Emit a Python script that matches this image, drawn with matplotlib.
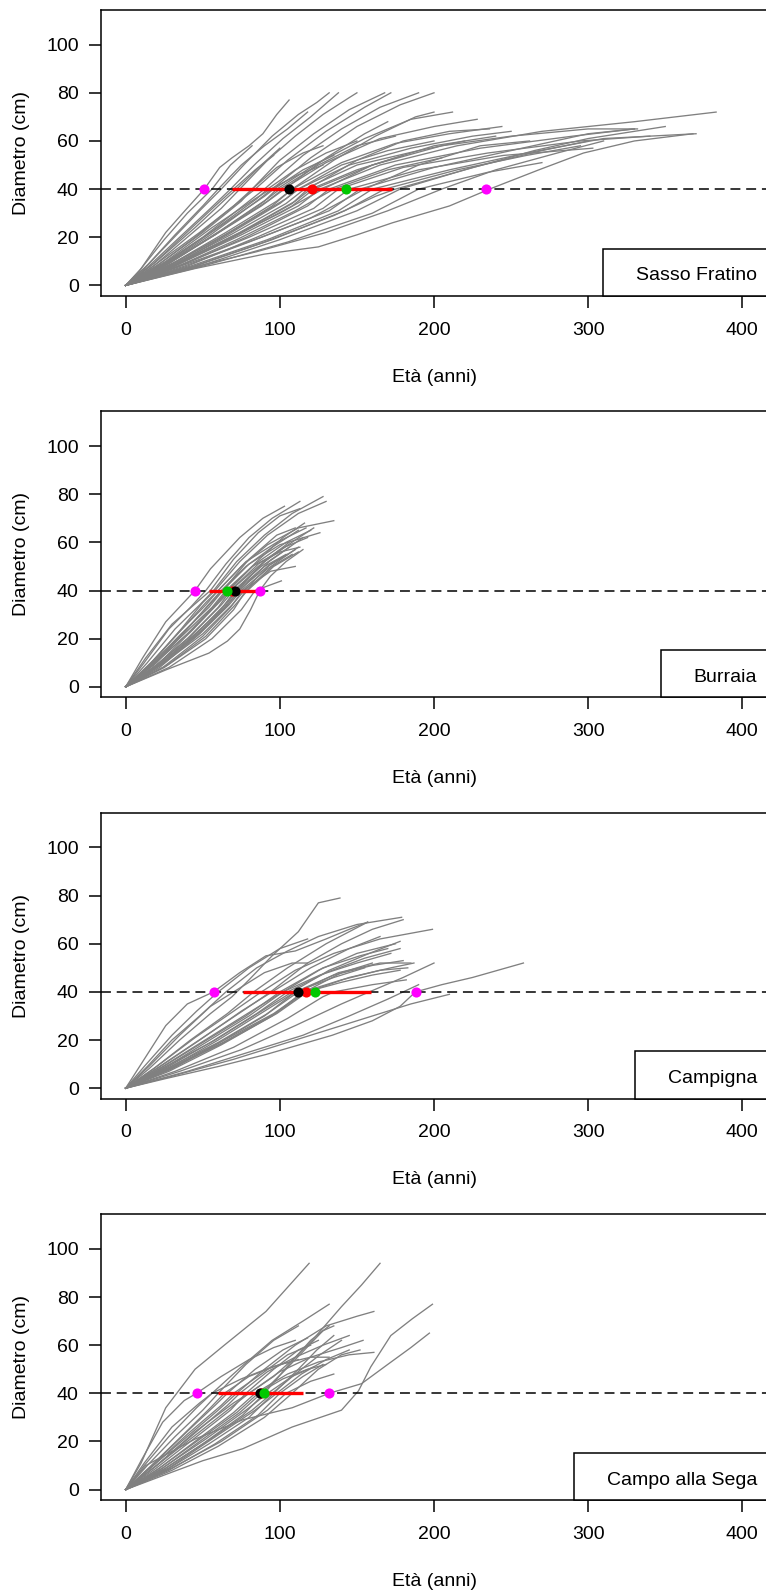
import matplotlib
matplotlib.use('Agg')
import matplotlib.pyplot as plt
from matplotlib.patches import Rectangle

plt.rcParams['font.family'] = ['Liberation Sans', 'DejaVu Sans']

# sites and age (years) at which 40 cm diameter is reached
sites = ['Sasso Fratino', 'Burraia', 'Campigna', 'Campo alla Sega']
age40_lo = [51, 45, 57, 46]        # magenta
age40_hi = [234, 87, 188, 132]     # magenta
range_lo = [69, 54, 76, 60]        # red segment
range_hi = [173, 85, 159, 115]
age40_median = [106, 71, 112, 87]  # black
age40_mean = [121, 69, 117, 88]    # red
age40_fit = [143, 66, 123, 90]     # green

# growth curves (age, diameter)
sasso_curves = [
    [(0, 0), (9, 6), (26, 22), (37, 30), (51, 40), (61, 49), (69, 53), (80, 58), (89, 63), (98, 71), (106, 77)],
    [(0, 0), (10, 7), (25, 19), (40, 30), (56, 40), (68, 50), (82, 58)],
    [(0, 0), (12, 7), (30, 19), (48, 31), (62, 40), (78, 51), (95, 62), (112, 71), (124, 76), (132, 80)],
    [(0, 0), (15, 8), (35, 20), (55, 32), (68, 40), (85, 51), (102, 61), (120, 70), (138, 80)],
    [(0, 0), (18, 8), (40, 20), (62, 32), (74, 40), (92, 52), (110, 62), (128, 71), (145, 78), (150, 80)],
    [(0, 0), (20, 8), (45, 20), (70, 33), (82, 40), (100, 52), (122, 63), (145, 73), (168, 80)],
    [(0, 0), (20, 9), (48, 22), (72, 34), (84, 40), (105, 52), (130, 64), (155, 74), (172, 80)],
    [(0, 0), (22, 8), (50, 20), (78, 34), (90, 40), (115, 54), (140, 65), (165, 74), (190, 80)],
    [(0, 0), (24, 8), (55, 21), (85, 35), (95, 40), (120, 53), (150, 66), (178, 75), (200, 80)],
    [(0, 0), (25, 8), (58, 21), (90, 35), (98, 40), (125, 51), (155, 61), (185, 69), (212, 72)],
    [(0, 0), (25, 9), (55, 22), (85, 36), (92, 40), (110, 48), (130, 55), (150, 60)],
    [(0, 0), (28, 9), (60, 22), (92, 35), (102, 40), (130, 51), (165, 61), (200, 66), (228, 69)],
    [(0, 0), (30, 9), (65, 22), (98, 35), (108, 40), (140, 51), (175, 59), (210, 63), (244, 66)],
    [(0, 0), (30, 8), (66, 21), (100, 34), (112, 40), (145, 50), (185, 57), (225, 62), (250, 64)],
    [(0, 0), (32, 9), (68, 21), (104, 34), (116, 40), (150, 50), (190, 56), (220, 60)],
    [(0, 0), (32, 8), (70, 20), (108, 33), (122, 40), (160, 50), (205, 58), (250, 62), (300, 65), (332, 65)],
    [(0, 0), (35, 9), (75, 21), (112, 33), (126, 40), (165, 50), (215, 58), (270, 64), (330, 68), (383, 72)],
    [(0, 0), (35, 8), (78, 20), (118, 33), (132, 40), (175, 50), (230, 57), (290, 62), (330, 65)],
    [(0, 0), (38, 9), (80, 20), (122, 32), (138, 40), (180, 49), (235, 55), (295, 60), (340, 62)],
    [(0, 0), (40, 8), (85, 20), (128, 32), (145, 40), (190, 48), (245, 54), (303, 57)],
    [(0, 0), (40, 9), (88, 20), (132, 31), (152, 40), (200, 49), (250, 56), (300, 63), (330, 65)],
    [(0, 0), (42, 8), (92, 19), (138, 31), (160, 40), (210, 48), (260, 55), (310, 61), (370, 63)],
    [(0, 0), (45, 8), (95, 19), (142, 31), (168, 40), (215, 48), (260, 54), (295, 58)],
    [(0, 0), (48, 8), (100, 19), (150, 31), (178, 40), (225, 49), (270, 56), (300, 60)],
    [(0, 0), (50, 8), (105, 18), (160, 30), (190, 40), (235, 47), (270, 51)],
    [(0, 0), (45, 7), (90, 13), (125, 16), (150, 21), (173, 26), (210, 33), (236, 40), (268, 48), (297, 55), (330, 60), (368, 63)],
    [(0, 0), (40, 7), (85, 14), (130, 22), (170, 31), (205, 40), (240, 48), (280, 55), (310, 60)],
    [(0, 0), (20, 10), (45, 24), (65, 36), (72, 40), (88, 50), (100, 57)],
    [(0, 0), (22, 9), (50, 22), (75, 35), (82, 40), (98, 49), (115, 55), (128, 58)],
    [(0, 0), (28, 10), (60, 24), (90, 37), (96, 40), (115, 48), (135, 54)],
    [(0, 0), (30, 10), (62, 23), (92, 36), (100, 40), (125, 50), (150, 58), (175, 62)],
    [(0, 0), (33, 10), (70, 23), (104, 36), (112, 40), (140, 50), (170, 56), (200, 60)],
    [(0, 0), (36, 10), (74, 22), (110, 35), (120, 40), (150, 48), (180, 54)],
    [(0, 0), (30, 8), (65, 19), (100, 30), (128, 40), (160, 50), (200, 58), (240, 62)],
    [(0, 0), (38, 8), (80, 18), (120, 28), (155, 40), (190, 50), (230, 58), (262, 60)],
    [(0, 0), (18, 9), (38, 21), (58, 33), (70, 40), (84, 48), (96, 54)],
    [(0, 0), (15, 9), (32, 21), (50, 33), (60, 40), (75, 50), (90, 58), (105, 65), (118, 72)],
    [(0, 0), (28, 8), (62, 20), (95, 33), (108, 40), (135, 52), (162, 62), (188, 70), (200, 72)],
    [(0, 0), (26, 9), (58, 21), (88, 33), (103, 40), (130, 53), (155, 63), (170, 68)],
    [(0, 0), (34, 9), (72, 21), (108, 34), (118, 40), (150, 52), (180, 60), (210, 64), (236, 65)],
    [(0, 0), (44, 8), (90, 18), (135, 29), (162, 37), (175, 40), (220, 48), (265, 56), (300, 61), (350, 66)],
    [(0, 0), (26, 10), (56, 24), (84, 36), (94, 40), (112, 46), (128, 50)],
    [(0, 0), (34, 8), (72, 19), (110, 31), (135, 40), (170, 48), (205, 53)],
]

burraia_curves = [
    [(0, 0), (11, 12), (26, 27), (45, 40), (55, 49), (74, 62), (89, 70), (103, 75)],
    [(0, 0), (12, 10), (28, 24), (42, 33), (52, 40), (65, 51), (80, 62), (95, 70), (113, 77)],
    [(0, 0), (14, 10), (32, 24), (48, 34), (57, 40), (72, 52), (90, 63), (108, 72), (128, 79)],
    [(0, 0), (15, 9), (35, 23), (52, 34), (60, 40), (75, 50), (92, 59), (112, 66), (135, 69)],
    [(0, 0), (16, 9), (36, 22), (54, 33), (63, 40), (80, 51), (100, 59), (126, 64)],
    [(0, 0), (15, 8), (38, 22), (56, 33), (65, 40), (82, 50), (100, 56), (113, 58)],
    [(0, 0), (18, 9), (40, 22), (58, 34), (66, 40), (84, 51), (104, 60), (120, 65)],
    [(0, 0), (18, 8), (40, 20), (60, 33), (68, 40), (86, 51), (103, 58), (118, 62)],
    [(0, 0), (20, 9), (42, 21), (62, 34), (70, 40), (88, 50), (106, 58)],
    [(0, 0), (20, 8), (44, 21), (63, 33), (71, 40), (90, 52), (110, 61), (122, 66)],
    [(0, 0), (22, 8), (46, 21), (65, 33), (73, 40), (92, 50), (110, 57)],
    [(0, 0), (22, 9), (47, 22), (66, 34), (74, 40), (93, 52), (115, 62)],
    [(0, 0), (24, 8), (50, 21), (68, 33), (76, 40), (94, 48), (110, 50)],
    [(0, 0), (25, 8), (52, 20), (70, 32), (78, 40), (95, 50), (108, 55)],
    [(0, 0), (28, 8), (56, 20), (75, 32), (84, 40), (101, 44)],
    [(0, 0), (26, 7), (54, 14), (66, 19), (74, 24), (81, 32), (87, 40), (94, 46), (104, 52), (115, 57)],
    [(0, 0), (20, 10), (40, 24), (55, 35), (62, 40), (78, 50), (95, 58), (112, 65)],
    [(0, 0), (17, 10), (36, 24), (50, 35), (58, 40), (74, 52), (92, 63), (112, 72), (130, 77)],
    [(0, 0), (24, 10), (46, 22), (64, 34), (72, 40), (90, 52), (106, 60)],
    [(0, 0), (21, 9), (45, 22), (64, 33), (72, 40), (90, 50), (104, 55)],
    [(0, 0), (19, 10), (42, 23), (60, 35), (67, 40), (85, 52), (102, 62), (116, 68)],
    [(0, 0), (23, 9), (48, 22), (67, 34), (75, 40), (92, 49), (112, 58)],
    [(0, 0), (25, 10), (50, 22), (69, 34), (77, 40), (94, 51), (105, 55)],
    [(0, 0), (13, 12), (30, 26), (46, 35), (55, 40), (70, 53), (86, 64), (100, 71), (113, 74)],
    [(0, 0), (18, 11), (38, 25), (52, 35), (60, 40), (78, 52), (98, 60), (117, 66)],
    [(0, 0), (27, 9), (52, 21), (71, 34), (79, 40), (96, 50), (112, 56)],
    [(0, 0), (22, 10), (44, 24), (62, 36), (68, 40), (86, 50), (100, 57)],
    [(0, 0), (20, 11), (41, 25), (57, 36), (63, 40), (80, 53), (98, 63), (110, 66)],
]

campigna_curves = [
    [(0, 0), (10, 10), (26, 26), (40, 35), (57, 40), (74, 48), (91, 55), (110, 57), (130, 62), (145, 66), (157, 69)],
    [(0, 0), (15, 8), (35, 20), (55, 31), (69, 38), (80, 45), (95, 55), (112, 65), (125, 77), (139, 79)],
    [(0, 0), (14, 9), (30, 20), (48, 30), (65, 40), (85, 50), (105, 57), (125, 63), (150, 68), (179, 71)],
    [(0, 0), (20, 9), (45, 21), (70, 32), (88, 40), (110, 49), (135, 56), (165, 62), (199, 66)],
    [(0, 0), (22, 8), (50, 19), (78, 30), (100, 40), (125, 49), (150, 56), (175, 60)],
    [(0, 0), (25, 8), (55, 19), (85, 31), (105, 40), (130, 48), (155, 54), (178, 58)],
    [(0, 0), (25, 7), (58, 18), (90, 30), (110, 40), (135, 47), (160, 51), (180, 53)],
    [(0, 0), (26, 8), (60, 19), (92, 31), (112, 40), (138, 48), (165, 52), (185, 52)],
    [(0, 0), (28, 7), (62, 18), (95, 30), (115, 40), (140, 45), (165, 49), (183, 50)],
    [(0, 0), (28, 8), (64, 19), (98, 31), (118, 40), (145, 46), (172, 50), (187, 52)],
    [(0, 0), (32, 7), (70, 17), (105, 29), (128, 38), (135, 40), (160, 43), (182, 45)],
    [(0, 0), (20, 8), (48, 20), (75, 32), (95, 40), (120, 50), (145, 58), (165, 63)],
    [(0, 0), (24, 8), (52, 19), (80, 30), (102, 40), (128, 50), (152, 55), (170, 58)],
    [(0, 0), (26, 9), (58, 20), (88, 32), (108, 40), (132, 49), (158, 56), (178, 61)],
    [(0, 0), (30, 8), (64, 20), (96, 31), (116, 40), (140, 48), (160, 52)],
    [(0, 0), (18, 8), (42, 20), (66, 31), (83, 40), (105, 50), (130, 60), (157, 69)],
    [(0, 0), (22, 9), (50, 21), (78, 33), (94, 40), (118, 52), (140, 60), (160, 66), (180, 70)],
    [(0, 0), (15, 9), (35, 22), (55, 34), (70, 40), (90, 48), (108, 52), (118, 52)],
    [(0, 0), (35, 7), (75, 16), (110, 26), (140, 35), (158, 40), (180, 46), (200, 52)],
    [(0, 0), (40, 7), (80, 15), (115, 22), (145, 30), (170, 37), (180, 40), (190, 43)],
    [(0, 0), (26, 4), (60, 9), (91, 14), (134, 22), (160, 28), (178, 34), (188, 40), (205, 43), (225, 46), (258, 52)],
    [(0, 0), (30, 5), (70, 12), (110, 20), (150, 28), (185, 35), (210, 39)],
    [(0, 0), (27, 8), (60, 20), (90, 32), (110, 40), (135, 46), (155, 50)],
    [(0, 0), (29, 8), (63, 19), (97, 31), (117, 40), (140, 44), (160, 47), (178, 49)],
    [(0, 0), (24, 9), (54, 21), (84, 33), (102, 40), (126, 47), (150, 52), (172, 56)],
    [(0, 0), (12, 9), (30, 22), (46, 32), (60, 40), (80, 50), (100, 58), (118, 62)],
]

sega_curves = [
    [(0, 0), (10, 11), (26, 34), (45, 50), (64, 60), (91, 74), (105, 84), (119, 94)],
    [(0, 0), (12, 10), (28, 22), (46, 34), (56, 40), (75, 51), (95, 62), (115, 70), (132, 77)],
    [(0, 0), (20, 10), (45, 24), (70, 36), (80, 40), (96, 47), (110, 55), (121, 62), (140, 76), (153, 85), (165, 94)],
    [(0, 0), (29, 7), (50, 12), (76, 17), (108, 26), (140, 33), (151, 41), (159, 51), (172, 64), (186, 71), (199, 77)],
    [(0, 0), (13, 10), (45, 21), (76, 29), (108, 34), (132, 40), (153, 44), (170, 52), (185, 59), (197, 65)],
    [(0, 0), (16, 9), (38, 21), (60, 33), (72, 40), (90, 50), (110, 60), (130, 68), (150, 72), (161, 74)],
    [(0, 0), (18, 9), (42, 21), (66, 33), (80, 40), (100, 49), (120, 55), (140, 59), (154, 62)],
    [(0, 0), (20, 8), (45, 20), (70, 32), (84, 40), (105, 48), (125, 53), (145, 56), (161, 57)],
    [(0, 0), (15, 9), (36, 22), (55, 34), (64, 40), (80, 47), (100, 52), (120, 55), (132, 55)],
    [(0, 0), (22, 8), (48, 20), (74, 32), (88, 40), (104, 50), (116, 58), (128, 66), (135, 68)],
    [(0, 0), (24, 8), (50, 19), (76, 31), (90, 40), (106, 52), (120, 62), (132, 68)],
    [(0, 0), (18, 10), (40, 23), (62, 35), (70, 40), (88, 48), (105, 56), (120, 60)],
    [(0, 0), (20, 9), (44, 21), (68, 33), (78, 40), (96, 50), (112, 58), (125, 62)],
    [(0, 0), (26, 8), (54, 19), (80, 30), (96, 40), (112, 50), (124, 58), (135, 64)],
    [(0, 0), (22, 9), (46, 20), (72, 32), (86, 40), (102, 46), (118, 50), (130, 52)],
    [(0, 0), (28, 8), (58, 19), (86, 31), (100, 40), (115, 47), (128, 52)],
    [(0, 0), (12, 11), (30, 26), (48, 36), (56, 40), (75, 46), (95, 51), (112, 54)],
    [(0, 0), (10, 12), (24, 28), (38, 37), (46, 40), (62, 47), (80, 54), (96, 59), (110, 62)],
    [(0, 0), (30, 8), (60, 18), (90, 30), (108, 40), (125, 50), (140, 56), (152, 58)],
    [(0, 0), (24, 9), (52, 21), (78, 33), (92, 40), (108, 47), (122, 51)],
    [(0, 0), (20, 10), (44, 23), (66, 35), (74, 40), (92, 49), (110, 55), (128, 60), (145, 64)],
    [(0, 0), (17, 10), (38, 23), (58, 35), (66, 40), (84, 50), (102, 58), (118, 63)],
    [(0, 0), (26, 9), (55, 21), (82, 33), (95, 40), (112, 49), (126, 56), (140, 62)],
    [(0, 0), (14, 10), (32, 22), (50, 33), (60, 40), (78, 52), (96, 62), (112, 68)],
    [(0, 0), (30, 9), (62, 20), (92, 33), (104, 40), (120, 45), (135, 48)],
    [(0, 0), (28, 9), (56, 21), (84, 33), (98, 40), (114, 48), (130, 54), (145, 58)],
]

all_curves = [sasso_curves, burraia_curves, campigna_curves, sega_curves]

W, H = 766, 1594
fig = plt.figure(figsize=(W / 100, H / 100), dpi=100)
fs = 14
ax_h = 286

for i, name in enumerate(sites):
    top = 10 + 401.4 * i
    ax = fig.add_axes([101 / W, 1 - (top + ax_h) / H, 666 / W, ax_h / H])

    for c in all_curves[i]:
        x = [p[0] for p in c]
        y = [p[1] for p in c]
        ax.plot(x, y, color='#808080', lw=0.95, zorder=1)

    ax.axhline(40, color='black', lw=1.1, ls=(0, (6.5, 3.8)), zorder=2)
    ax.plot([range_lo[i], range_hi[i]], [40, 40], color='red', lw=2.4,
            solid_capstyle='butt', zorder=3)
    ax.plot([age40_lo[i], age40_hi[i]], [40, 40], 'o', color='#FF00FF', ms=7.3, mew=0, zorder=4)
    ax.plot([age40_mean[i]], [40], 'o', color='red', ms=7.3, mew=0, zorder=5)
    ax.plot([age40_median[i]], [40], 'o', color='black', ms=7.3, mew=0, zorder=6)
    ax.plot([age40_fit[i]], [40], 'o', color='#00C800', ms=7.3, mew=0, zorder=7)

    ax.set_xlim(-16, 416)
    ax.set_ylim(-4.4, 114.4)
    ax.set_xticks([0, 100, 200, 300, 400])
    ax.set_yticks([0, 20, 40, 60, 80, 100])
    ax.tick_params(axis='both', direction='out', length=8.5, width=1.1,
                   labelsize=fs, colors='black')
    ax.tick_params(axis='x', pad=10)
    ax.tick_params(axis='y', pad=7.5)
    for s in ax.spines.values():
        s.set_linewidth(1.1)

    ax.text(0.5, -81 / ax_h, 'Età (anni)', transform=ax.transAxes,
            ha='center', va='center', fontsize=fs)
    ax.text((21.7 - 101) / 666, 0.5, 'Diametro (cm)', transform=ax.transAxes,
            ha='center', va='center', rotation=90, fontsize=fs)

    # legend-like box in the bottom right corner
    t = ax.text((757 - 101) / 666, 20 / ax_h, name, transform=ax.transAxes,
                ha='right', va='center', fontsize=fs, zorder=9)
    fig.canvas.draw()
    bb = t.get_window_extent()
    ax_bb = ax.get_window_extent()
    left = (bb.x0 - 33 - ax_bb.x0) / ax_bb.width
    ax.add_patch(Rectangle((left, 0), 1.0 - left, 47.5 / ax_h, transform=ax.transAxes,
                           facecolor='white', edgecolor='black', lw=1.1,
                           clip_on=False, zorder=8))

fig.savefig('out.png', dpi=100)
